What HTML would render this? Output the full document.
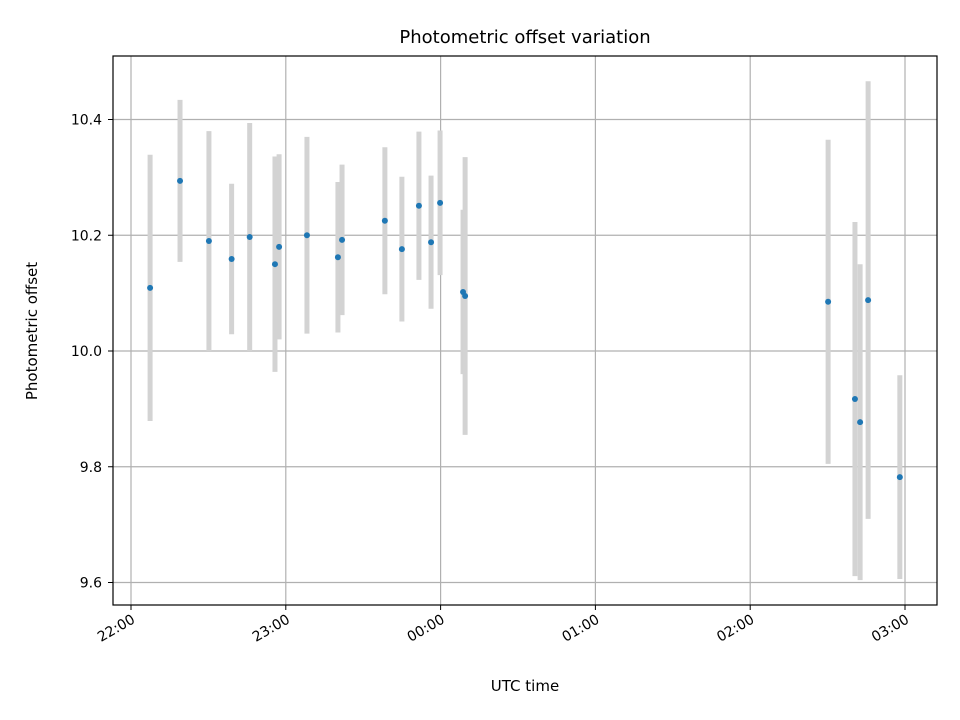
<!DOCTYPE html>
<html><head><meta charset="utf-8"><style>
body{margin:0;background:#fff}
svg{display:block;font-family:"DejaVu Sans","Liberation Sans",sans-serif}
</style></head><body>
<svg id="chart" width="960" height="720" xmlns="http://www.w3.org/2000/svg">
<rect width="960" height="720" fill="#fff"/>
<text x="525" y="43" text-anchor="middle" font-size="18">Photometric offset variation</text>
<text x="525" y="691" text-anchor="middle" font-size="15">UTC time</text>
<text transform="translate(37,331) rotate(-90)" text-anchor="middle" font-size="15">Photometric offset</text>
<g id="grid"></g><g id="bars"></g><g id="pts"></g><g id="ticks"></g>
<rect x="113" y="56" width="824" height="549" fill="none" stroke="#000" stroke-width="1.2"/>
</svg>
<script>
const times=[7.4,19,30.2,39,46,55.8,57.4,68.2,80.2,81.8,98.4,105,111.6,116.3,119.8,128.7,129.5,270.2,280.6,282.6,285.7,298];
const offsets=[10.109,10.294,10.19,10.159,10.197,10.15,10.18,10.2,10.162,10.192,10.225,10.176,10.251,10.188,10.256,10.102,10.095,10.085,9.917,9.877,10.088,9.782];
const errors=[0.23,0.14,0.19,0.13,0.197,0.186,0.16,0.17,0.13,0.13,0.127,0.125,0.128,0.115,0.125,0.142,0.24,0.28,0.306,0.273,0.378,0.176];
const xTickMin=[0,60,120,180,240,300];
const xTickLabels=["22:00","23:00","00:00","01:00","02:00","03:00"];
const yTicks=[9.6,9.8,10.0,10.2,10.4];
const yTickLabels=["9.6","9.8","10.0","10.2","10.4"];
const NS="http://www.w3.org/2000/svg";
const X=m=>131+m*(905-131)/300;
const Y=v=>351-(v-10)*578.75;
function mk(t,a,p){const e=document.createElementNS(NS,t);for(const k in a)e.setAttribute(k,a[k]);p.appendChild(e);return e;}
const grid=document.getElementById('grid'),ticks=document.getElementById('ticks'),bars=document.getElementById('bars'),pts=document.getElementById('pts');
xTickMin.forEach((m,i)=>{const x=X(m);
 let g=mk('line',{x1:x,x2:x,y1:56,y2:605,stroke:'#b0b0b0','stroke-width':1.2},grid);
 
 mk('line',{x1:x,x2:x,y1:605,y2:610,stroke:'#000'},ticks);
 let t=mk('text',{x:x+5,y:622,'text-anchor':'end','font-size':14,transform:`rotate(-30 ${x+5} 622)`},ticks);t.textContent=xTickLabels[i];
 });
yTicks.forEach((v,i)=>{const y=Y(v);
 let g=mk('line',{x1:113,x2:937,y1:y,y2:y,stroke:'#b0b0b0','stroke-width':1.2},grid);
 
 mk('line',{x1:108,x2:113,y1:y,y2:y,stroke:'#000'},ticks);
 let t=mk('text',{x:102,y:y+5,'text-anchor':'end','font-size':14},ticks);t.textContent=yTickLabels[i];
 });
times.forEach((m,i)=>{const x=X(m);
 let b=mk('line',{x1:x,x2:x,y1:Y(offsets[i]+errors[i]),y2:Y(offsets[i]-errors[i]),stroke:'#d3d3d3','stroke-width':5},bars);
 
 let c=mk('circle',{cx:x,cy:Y(offsets[i]),r:3,fill:'#1f77b4'},pts);
 });
</script>
</body></html>
